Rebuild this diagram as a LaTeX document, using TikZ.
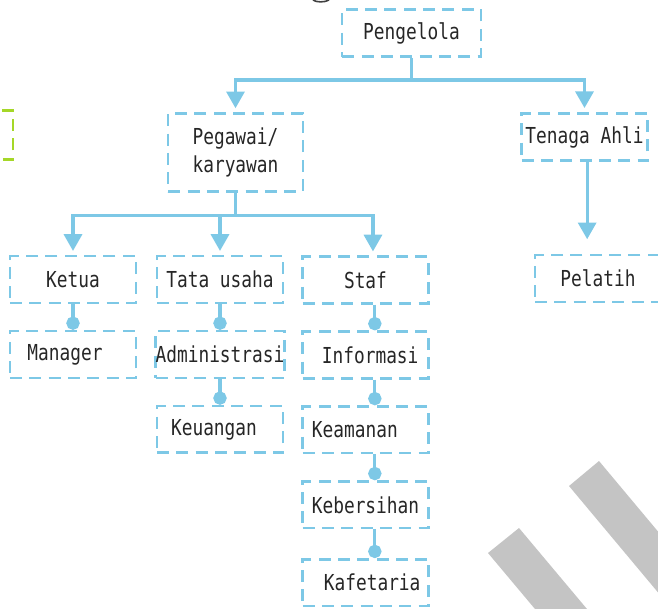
\documentclass[tikz,border=0pt]{standalone}
\usepackage{fontspec}
\usetikzlibrary{arrows.meta, positioning}
\newfontfamily\hurufbagan{DejaVu Sans Mono}[FakeStretch=0.81]
\definecolor{birumuda}{RGB}{125,200,230}
\definecolor{hijaumuda}{RGB}{165,215,40}
\definecolor{abuwm}{RGB}{196,196,196}

\begin{document}
\begin{tikzpicture}[
        x=0.75pt, y=-0.75pt,
        node distance=19.3pt,
        % Kotak bagian
        kotak/.style={
                rectangle,
                draw=birumuda,
                dash pattern=on 9pt off 5.5pt,
                line width=1.9pt,
                minimum width=94.5pt,
                minimum height=35pt,
                inner sep=0pt,
                align=center,
                font=\hurufbagan\fontsize{16.5pt}{21pt}\selectfont,
                text=black!85
            },
        % Garis penghubung
        garis/.style={
                line width=2.4pt,
                color=birumuda
            },
        % Panah
        panah/.style={
                garis,
                -{Triangle[width=13.5pt,length=12.5pt]},
                shorten >=3pt
            },
        % Garis dengan titik
        titik/.style={
                garis,
                -{Circle[length=10pt]}
            }
    ]

    \path[use as bounding box, clip] (0,0) rectangle (658,608);

    % Tanda air
    \fill[abuwm] (488,553) -- (519,528) -- (613,640) -- (561,640) -- cycle;
    \fill[abuwm] (569,486) -- (599,461) -- (799,700) -- (748,700) -- cycle;
    \draw[black!75, line width=1.2pt] (313,0) .. controls (316,2.5) and (325,2.5) .. (329,0);

    % Kotak terpotong di kiri
    \node[kotak, draw=hijaumuda, minimum height=37pt] (lain) at (-50,135) {};

    % Tingkat atas
    \node[kotak, minimum width=104pt, minimum height=35.5pt] (pengelola) at (411.5,33) {Pengelola};

    % Tingkat kedua
    \node[kotak, minimum width=101pt, minimum height=58.5pt] (pegawai) at (235.5,152.5) {Pegawai/\\karyawan};
    \node[kotak, minimum height=35.5pt] (tenaga) at (584.5,137) {Tenaga Ahli};
    \node[kotak] (pelatih) at (598,278.5) {Pelatih};

    % Tingkat ketiga
    \node[kotak] (ketua) at (73,279.5) {Ketua};
    \node[kotak, below=of ketua] (manager) {Manager\kern12pt};

    \node[kotak] (tatausaha) at (220,279.5) {Tata usaha};
    \node[kotak, below=of tatausaha] (administrasi) {Administrasi};
    \node[kotak, below=of administrasi] (keuangan) {Keuangan\kern9pt};

    \node[kotak] (staf) at (365.5,280) {Staf};
    \node[kotak, below=of staf] (informasi) {\kern7pt Informasi};
    \node[kotak, below=of informasi] (keamanan) {Keamanan\kern16pt};
    \node[kotak, below=of keamanan] (kebersihan) {Kebersihan};
    \node[kotak, below=21.5pt of kebersihan] (kafetaria) {\kern10pt Kafetaria};

    % Panah dari pengelola
    \draw[garis] (pengelola.south) -- ++(0,22) coordinate (simpul1);
    \draw[panah] (simpul1) -| (pegawai.north);
    \draw[panah] (simpul1) -| (tenaga.north);

    % Panah dari pegawai
    \draw[garis] (pegawai.south) -- ++(0,23) coordinate (simpul2);
    \draw[panah] (simpul2) -| (ketua.north);
    \draw[panah] (simpul2) -| (tatausaha.north);
    \draw[panah] (simpul2) -| ([xshift=5.6pt]staf.north);

    \draw[panah, shorten >=11pt] ([xshift=2pt]tenaga.south) -- ([xshift=2pt]tenaga.south |- pelatih.north);

    % Garis bertitik
    \draw[titik] (ketua.south) -- (manager.north);
    \draw[titik] (tatausaha.south) -- (administrasi.north);
    \draw[titik] (administrasi.south) -- (keuangan.north);
    \draw[titik] ([xshift=7pt]staf.south) -- ([xshift=7pt]informasi.north);
    \draw[titik] ([xshift=7pt]informasi.south) -- ([xshift=7pt]keamanan.north);
    \draw[titik] ([xshift=7pt]keamanan.south) -- ([xshift=7pt]kebersihan.north);
    \draw[titik] ([xshift=7pt]kebersihan.south) -- ([xshift=7pt]kafetaria.north);

\end{tikzpicture}
\end{document}
